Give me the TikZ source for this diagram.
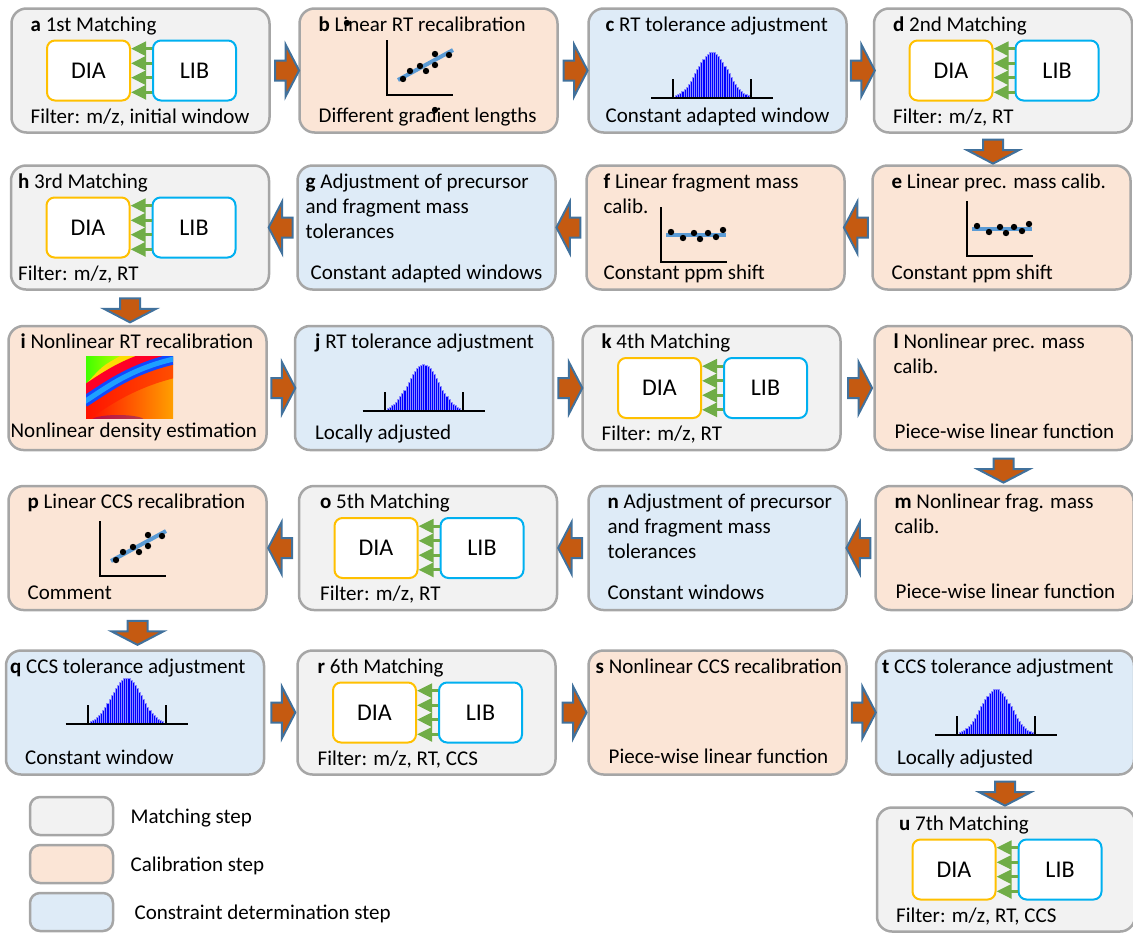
\documentclass[tikz,border=0pt]{standalone}
\usepackage{fontspec}
\setmainfont{Carlito}
\usetikzlibrary{arrows.meta, positioning, shapes.arrows, calc}
\usepackage{xcolor}
\definecolor{cinzaclaro}{HTML}{F2F2F2}
\definecolor{pessego}{HTML}{FBE5D6}
\definecolor{azulclaro}{HTML}{DEEBF7}
\definecolor{contorno}{HTML}{A6A6A6}
\definecolor{ouro}{HTML}{FFC000}
\definecolor{celeste}{HTML}{00B0F0}
\definecolor{verdeseta}{HTML}{70AD47}
\definecolor{ferrugem}{HTML}{C55A11}
\definecolor{azulseta}{HTML}{41719C}
\definecolor{retacor}{HTML}{5B9BD5}
\definecolor{faixaazul}{HTML}{1048FF}
\definecolor{faixaciano}{HTML}{1EA0FF}
\tikzset{
  etapa/.style={
    draw=contorno, line width=1.25pt, rounded corners=7.5pt,
    minimum width=129pt, minimum height=62pt, inner sep=0pt
  },
  etapaM/.style={etapa, fill=cinzaclaro},
  etapaC/.style={etapa, fill=pessego},
  etapaR/.style={etapa, fill=azulclaro},
  titulo/.style={inner sep=0pt, align=left, font=\fontsize{10.5}{12.5}\selectfont},
  rodape/.style={inner sep=0pt, text depth=0pt, font=\fontsize{10.5}{12.5}\selectfont},
  dados/.style={fill=white, line width=1pt, rounded corners=4pt,
    minimum width=41.5pt, minimum height=30pt, font=\fontsize{12}{14}\selectfont},
  dia/.style={dados, draw=ouro},
  lib/.style={dados, draw=celeste},
  fluxo/.style={-{Triangle[length=7.5pt, width=7pt]}, verdeseta, line width=1.5pt},
  bloco/.style={single arrow, draw=azulseta, fill=ferrugem, line width=1pt,
    minimum height=12pt, inner xsep=0pt, inner ysep=4.5pt,
    single arrow head extend=8pt, single arrow tip angle=125},
  setaD/.style={bloco},
  setaE/.style={bloco, rotate=180},
  setaB/.style={bloco, rotate=-90},
  eixo/.style={line width=1pt, black},
  reta/.style={line width=2pt, retacor},
  barra/.style={fill=blue, draw=blue!45!white, line width=0.15pt},
  legenda/.style={draw=contorno, line width=1.25pt, rounded corners=5pt,
    minimum width=41.5pt, minimum height=19pt},
}
% DIA <- LIB dentro de uma etapa de matching
\newcommand{\pareamento}[1]{%
  \node[dia] (#1dia) at ($(#1)+(-52,0)$) {DIA};
  \node[lib] (#1lib) at ($(#1)+(54,0)$) {LIB};
  \foreach \dy in {10.9,3.6,-3.6,-10.9}
    \draw[fluxo] ([yshift=\dy pt]#1lib.west) -- ([yshift=\dy pt]#1dia.east);
}
% grafico com reta crescente
\newcommand{\dispersao}[1]{%
  \draw[eixo] ($(#1)+(0,-55)$) -- (#1) -- ($(#1)+(66,0)$);
  \draw[reta] ($(#1)+(11,-15)$) -- ($(#1)+(66,-45)$);
  \foreach \px/\py in {16/-16,23/-24,33/-29,39/-24,48/-41,48/-30,62/-40}
    \fill ($(#1)+(\px,\py)$) circle (1.6pt);
}
% grafico com reta horizontal
\newcommand{\plana}[1]{%
  \draw[eixo] ($(#1)+(0,-55)$) -- (#1) -- ($(#1)+(66,0)$);
  \draw[reta] ($(#1)+(5,-27)$) -- ($(#1)+(65,-27)$);
  \foreach \px/\py in {10/-30,22/-24,33/-29,39/-23,47/-29,55/-25,62/-32}
    \fill ($(#1)+(\px,\py)$) circle (1.6pt);
}
% histograma com janela
\newcommand{\histograma}[1]{%
  \foreach \k in {-17,...,17}
    \filldraw[barra] ($(#1)+({\k*2.1-1.05},0)$) rectangle
      ($(#1)+({\k*2.1+1.05},{-46*exp(-((\k*2.1)^2)/450)})$);
  \draw[eixo] ($(#1)+(-61,0)$) -- ($(#1)+(61,0)$);
  \draw[eixo] ($(#1)+(-39,0)$) -- ($(#1)+(-39,-19)$);
  \draw[eixo] ($(#1)+(39,0)$) -- ($(#1)+(39,-19)$);
}

\begin{document}
\begin{tikzpicture}[x=0.5pt, y=-0.5pt]
\useasboundingbox (0,0) rectangle (1133,932);

% Linha 1
\node[etapaM] (a) at (140.5,70.5) {};
\node[etapaC] (b) at (428.5,70.5) {};
\node[etapaR] (c) at (717.5,70.5) {};
\node[etapaM] (d) at (1003,70.5) {};

\node[titulo, below right=4.5pt and 10pt of a.north west] (a-t) {\textbf{a} 1st Matching};
\node[rodape, above right=5pt and 10pt of a.south west] (a-r) {Filter: m/z, initial window};
\pareamento{a}

\node[titulo, below right=4.5pt and 10pt of b.north west] (b-t) {\textbf{b} Linear RT recalibration};
\node[rodape, above right=5.5pt and 10pt of b.south west] (b-r) {Different gradient lengths};
\coordinate (b0) at ($(b)+(-41.5,24.5)$);
\dispersao{b0}
\fill ($(b)+(-81.5,-47.5)$) circle (1.6pt);
\fill ($(b)+(6.5,39.5)$) circle (1.6pt);

\node[titulo, below right=4.5pt and 9pt of c.north west] (c-t) {\textbf{c} RT tolerance adjustment};
\node[rodape, above right=5.5pt and 9pt of c.south west] (c-r) {Constant adapted window};
\coordinate (c0) at ($(c)+(-5.5,27.5)$);
\histograma{c0}

\node[titulo, below right=4.5pt and 10pt of d.north west] (d-t) {\textbf{d} 2nd Matching};
\node[rodape, above right=5pt and 10pt of d.south west] (d-r) {Filter: m/z, RT};
\pareamento{d}

\path (a.east) -- (b.west) node[midway, setaD] (ab) {};
\path (b.east) -- (c.west) node[midway, setaD] (bc) {};
\path (c.east) -- (d.west) node[midway, setaD] (cd) {};

% Linha 2
\node[etapaM] (h) at (140,227.5) {};
\node[etapaR] (g) at (426.5,227.5) {};
\node[etapaC] (f) at (715.5,227.5) {};
\node[etapaC] (e) at (1001.5,227.5) {};
\path ([xshift=-5pt]d.south) -- ([xshift=-5pt]d.south |- e.north) node[midway, setaB] (de) {};

\node[titulo, below right=4.5pt and 10pt of e.north west] (e-t) {\textbf{e} Linear prec. mass calib.};
\node[rodape, above right=5.5pt and 10pt of e.south west] (e-r) {Constant ppm shift};
\coordinate (e0) at ($(e)+(-34.5,28.5)$);
\plana{e0}

\node[titulo, below right=4.5pt and 9pt of f.north west] (f-t) {\textbf{f} Linear fragment mass\\calib.};
\node[rodape, above right=5.5pt and 9pt of f.south west] (f-r) {Constant ppm shift};
\coordinate (f0) at ($(f)+(-54.5,34.5)$);
\plana{f0}

\node[titulo, below right=4.5pt and 4.5pt of g.north west] (g-t) {\textbf{g} Adjustment of precursor\\and fragment mass\\tolerances};
\node[rodape, above right=5.5pt and 7pt of g.south west] (g-r) {Constant adapted windows};

\node[titulo, below right=4.5pt and 4pt of h.north west] (h-t) {\textbf{h} 3rd Matching};
\node[rodape, above right=5pt and 4pt of h.south west] (h-r) {Filter: m/z, RT};
\pareamento{h}

\path (e.west) -- (f.east) node[midway, setaE] (ef) {};
\path (f.west) -- (g.east) node[midway, setaE] (fg) {};
\path (g.west) -- (h.east) node[midway, setaE] (gh) {};

% Linha 3
\node[etapaC] (i) at (137.5,388) {};
\node[etapaR] (j) at (424,388) {};
\node[etapaM] (k) at (711.5,388) {};
\node[etapaC] (l) at (1003.5,388) {};
\path ([xshift=-5pt]h.south) -- ([xshift=-5pt]h.south |- i.north) node[midway, setaB] (hi) {};

\node[titulo, below right=4.5pt and 6.5pt of i.north west] (i-t) {\textbf{i} Nonlinear RT recalibration};
\node[rodape, above right=6.5pt and 1.5pt of i.south west] (i-r) {Nonlinear density estimation};
% mapa de densidade
\coordinate (i0) at ($(i)+(-51.5,-32)$);
\begin{scope}
  \clip (i0) rectangle ($(i0)+(87,62)$);
  \shade[left color=red!90!orange, right color=orange!75!yellow] (i0) rectangle ($(i0)+(87,62)$);
  \fill[yellow!80!orange] (i0) -- ($(i0)+(62,0)$) .. controls ($(i0)+(30,10)$) .. ($(i0)+(0,40)$) -- cycle;
  \shade[left color=green!75!yellow, right color=yellow!70!green] (i0) -- ($(i0)+(34,0)$) .. controls ($(i0)+(16,10)$) .. ($(i0)+(0,28)$) -- cycle;
  \draw[red!85!magenta, line width=5pt] ($(i0)+(-4,36)$) .. controls ($(i0)+(18,22)$) and ($(i0)+(42,2)$) .. ($(i0)+(92,-6)$);
  \draw[red!80!orange, line width=7pt, opacity=0.6] ($(i0)+(-2,58)$) .. controls ($(i0)+(22,42)$) and ($(i0)+(48,24)$) .. ($(i0)+(92,14)$);
  \fill[violet!80!blue, opacity=0.45] ($(i0)+(32,64)$) ellipse (26 and 5);
  \draw[faixaazul, line width=5.5pt] ($(i0)+(-2,46)$) .. controls ($(i0)+(20,32)$) and ($(i0)+(45,12)$) .. ($(i0)+(92,2)$);
  \draw[faixaciano, line width=2.5pt] ($(i0)+(-2,46)$) .. controls ($(i0)+(20,32)$) and ($(i0)+(45,12)$) .. ($(i0)+(92,2)$);
\end{scope}

\node[titulo, below right=4.5pt and 10.5pt of j.north west] (j-t) {\textbf{j} RT tolerance adjustment};
\node[rodape, above right=5.5pt and 10.5pt of j.south west] (j-r) {Locally adjusted};
\coordinate (j0) at ($(j)+(-0.5,22.5)$);
\histograma{j0}

\node[titulo, below right=4.5pt and 10pt of k.north west] (k-t) {\textbf{k} 4th Matching};
\node[rodape, above right=5pt and 10pt of k.south west] (k-r) {Filter: m/z, RT};
\pareamento{k}

\node[titulo, below right=4.5pt and 10pt of l.north west] (l-t) {\textbf{l} Nonlinear prec. mass\\calib.};
\node[rodape, above right=6pt and 10.5pt of l.south west] (l-r) {Piece-wise linear function};

\path (i.east) -- (j.west) node[midway, setaD] (ij) {};
\path (j.east) -- (k.west) node[midway, setaD] (jk) {};
\path (k.east) -- (l.west) node[midway, setaD] (kl) {};

% Linha 4
\node[etapaC] (p) at (137.5,548) {};
\node[etapaM] (o) at (428,548) {};
\node[etapaR] (n) at (717.5,548) {};
\node[etapaC] (m) at (1004.5,548) {};
\path (l.south) -- (l.south |- m.north) node[midway, setaB] (lm) {};

\node[titulo, below right=4.5pt and 10pt of m.north west] (m-t) {\textbf{m} Nonlinear frag. mass\\calib.};
\node[rodape, above right=6pt and 10.5pt of m.south west] (m-r) {Piece-wise linear function};

\node[titulo, below right=4.5pt and 10pt of n.north west] (n-t) {\textbf{n} Adjustment of precursor\\and fragment mass\\tolerances};
\node[rodape, above right=5.5pt and 10pt of n.south west] (n-r) {Constant windows};

\node[titulo, below right=4.5pt and 11pt of o.north west] (o-t) {\textbf{o} 5th Matching};
\node[rodape, above right=5pt and 11pt of o.south west] (o-r) {Filter: m/z, RT};
\pareamento{o}

\node[titulo, below right=4.5pt and 10pt of p.north west] (p-t) {\textbf{p} Linear CCS recalibration};
\node[rodape, above right=5.5pt and 10pt of p.south west] (p-r) {Comment};
\coordinate (p0) at ($(p)+(-37.5,28)$);
\dispersao{p0}

\path (m.west) -- (n.east) node[midway, setaE] (mn) {};
\path (n.west) -- (o.east) node[midway, setaE] (no) {};
\path (o.west) -- (p.east) node[midway, setaE] (op) {};

% Linha 5
\node[etapaR] (q) at (135,712.5) {};
\node[etapaM] (r) at (426.5,712.5) {};
\node[etapaC] (s) at (717.5,712.5) {};
\node[etapaR] (t) at (1005,712.5) {};
\path (p.south) -- (p.south |- q.north) node[midway, setaB] (pq) {};

\node[titulo, below right=4.5pt and 2.5pt of q.north west] (q-t) {\textbf{q} CCS tolerance adjustment};
\node[rodape, above right=5.5pt and 10pt of q.south west] (q-r) {Constant window};
\coordinate (q0) at ($(q)+(-8.5,11.5)$);
\histograma{q0}

\node[titulo, below right=4.5pt and 10.5pt of r.north west] (r-t) {\textbf{r} 6th Matching};
\node[rodape, above right=5pt and 10.5pt of r.south west] (r-r) {Filter: m/z, RT, CCS};
\pareamento{r}

\node[titulo, below right=4.5pt and 4pt of s.north west] (s-t) {\textbf{s} Nonlinear CCS recalibration};
\node[rodape, above right=6pt and 10.5pt of s.south west] (s-r) {Piece-wise linear function};

\node[titulo, below right=4.5pt and 3.5pt of t.north west] (t-t) {\textbf{t} CCS tolerance adjustment};
\node[rodape, above right=5.5pt and 11pt of t.south west] (t-r) {Locally adjusted};
\coordinate (t0) at ($(t)+(-9,22.5)$);
\histograma{t0}

\path (q.east) -- (r.west) node[midway, setaD] (qr) {};
\path (r.east) -- (s.west) node[midway, setaD] (rs) {};
\path (s.east) -- (t.west) node[midway, setaD] (st) {};

% Linha 6
\node[etapaM] (u) at (1006,869.5) {};
\path (t.south) -- (t.south |- u.north) node[midway, setaB] (tu) {};
\node[titulo, below right=4.5pt and 11.5pt of u.north west] (u-t) {\textbf{u} 7th Matching};
\node[rodape, above right=5pt and 10pt of u.south west] (u-r) {Filter: m/z, RT, CCS};
\pareamento{u}

% Legenda
\node[legenda, fill=cinzaclaro] (leg1) at (71.5,816) {};
\node[legenda, fill=pessego] (leg2) at (71.5,864) {};
\node[legenda, fill=azulclaro] (leg3) at (71.5,912) {};
\node[rodape, right=8pt of leg1] (leg1-t) {Matching step};
\node[rodape, right=8pt of leg2] (leg2-t) {Calibration step};
\node[rodape, right=10pt of leg3] (leg3-t) {Constraint determination step};

\end{tikzpicture}
\end{document}
